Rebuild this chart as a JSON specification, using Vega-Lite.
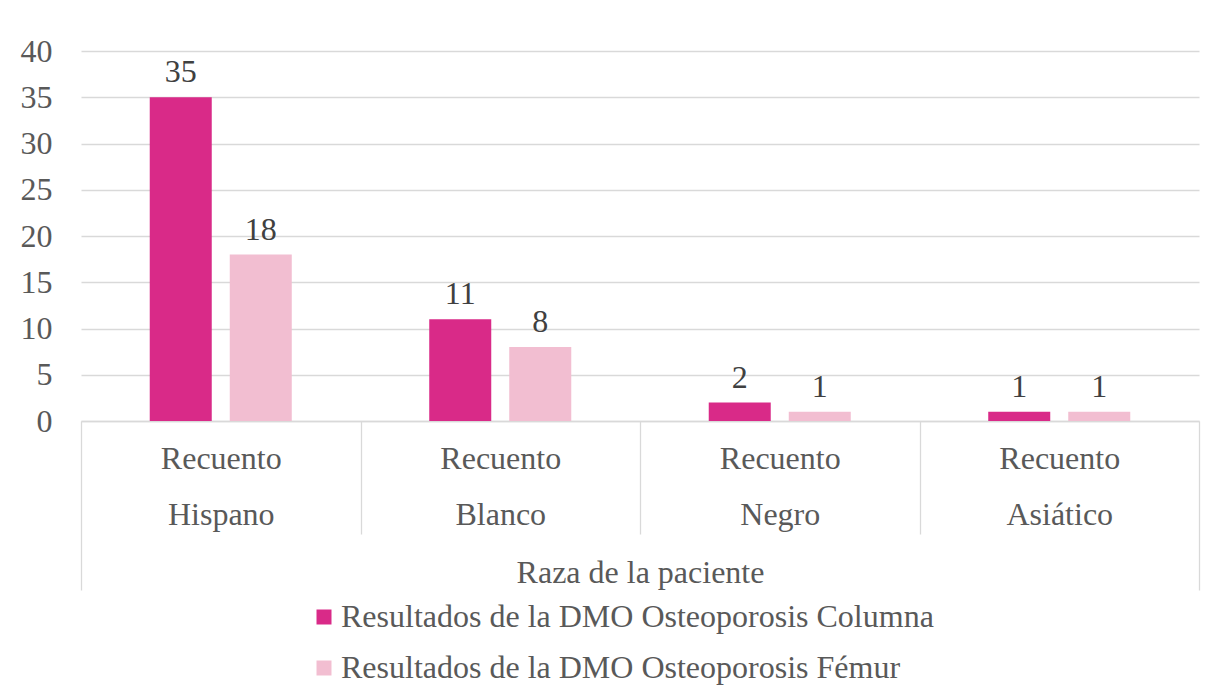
{
  "$schema": "https://vega.github.io/schema/vega-lite/v6.json",
  "width": 1118,
  "height": 370,
  "autosize": {"type": "none"},
  "padding": {"left": 81, "top": 51, "right": 31, "bottom": 279},
  "background": "white",
  "config": {"font": "Liberation Serif", "view": {"stroke": null}},
  "data": {
    "values": [
      {"raza": "Hispano", "serie": "Resultados de la DMO Osteoporosis Columna", "valor": 35},
      {"raza": "Hispano", "serie": "Resultados de la DMO Osteoporosis Fémur", "valor": 18},
      {"raza": "Blanco", "serie": "Resultados de la DMO Osteoporosis Columna", "valor": 11},
      {"raza": "Blanco", "serie": "Resultados de la DMO Osteoporosis Fémur", "valor": 8},
      {"raza": "Negro", "serie": "Resultados de la DMO Osteoporosis Columna", "valor": 2},
      {"raza": "Negro", "serie": "Resultados de la DMO Osteoporosis Fémur", "valor": 1},
      {"raza": "Asiático", "serie": "Resultados de la DMO Osteoporosis Columna", "valor": 1},
      {"raza": "Asiático", "serie": "Resultados de la DMO Osteoporosis Fémur", "valor": 1}
    ]
  },
  "encoding": {
    "x": {
      "field": "raza",
      "type": "nominal",
      "sort": ["Hispano", "Blanco", "Negro", "Asiático"],
      "scale": {"paddingInner": 0, "paddingOuter": 0},
      "axis": {
        "title": "Raza de la paciente",
        "labelAngle": 0,
        "labelExpr": "datum.index < 0 ? '' : ['Recuento', datum.label]",
        "labelLineHeight": 56,
        "labelFontSize": 32,
        "labelColor": "#595959",
        "labelPadding": {"condition": {"test": "abs(datum.index) == 1", "value": -147}, "value": -91},
        "tickBand": "extent",
        "tickColor": "#d9d9d9",
        "tickWidth": 1.3,
        "tickSize": {"condition": {"test": "abs(datum.index) == 1", "value": 169}, "value": 113},
        "domainColor": "#d9d9d9",
        "domainWidth": 1.3,
        "titleFontSize": 32,
        "titleFontWeight": "normal",
        "titleColor": "#595959",
        "titleY": 161,
        "titleBaseline": "alphabetic"
      }
    },
    "xOffset": {
      "field": "serie",
      "type": "nominal",
      "sort": ["Resultados de la DMO Osteoporosis Columna", "Resultados de la DMO Osteoporosis Fémur"],
      "scale": {"paddingInner": 0.225, "paddingOuter": 0.859}
    },
    "y": {
      "field": "valor",
      "type": "quantitative",
      "scale": {"domain": [0, 40]},
      "axis": {
        "title": null,
        "values": [0, 5, 10, 15, 20, 25, 30, 35, 40],
        "grid": true,
        "gridColor": "#d9d9d9",
        "gridWidth": 1.3,
        "domain": false,
        "ticks": false,
        "labelPadding": 29,
        "labelFontSize": 32,
        "labelColor": "#595959"
      }
    }
  },
  "layer": [
    {
      "mark": {"type": "bar"},
      "encoding": {
        "color": {
          "field": "serie",
          "type": "nominal",
          "scale": {
            "domain": ["Resultados de la DMO Osteoporosis Columna", "Resultados de la DMO Osteoporosis Fémur"],
            "range": ["#D92A88", "#F2BED1"]
          },
          "legend": {
            "orient": "none",
            "legendX": 227,
            "legendY": 550,
            "direction": "vertical",
            "title": null,
            "symbolType": "square",
            "symbolSize": 225,
            "symbolStrokeWidth": 0,
            "labelFontSize": 32,
            "labelColor": "#595959",
            "labelOffset": 1,
            "labelLimit": 800,
            "rowPadding": 19
          }
        }
      }
    },
    {
      "mark": {"type": "text", "baseline": "alphabetic", "dy": -15, "fontSize": 32, "color": "#404040"},
      "encoding": {"text": {"field": "valor", "type": "quantitative"}}
    }
  ]
}
